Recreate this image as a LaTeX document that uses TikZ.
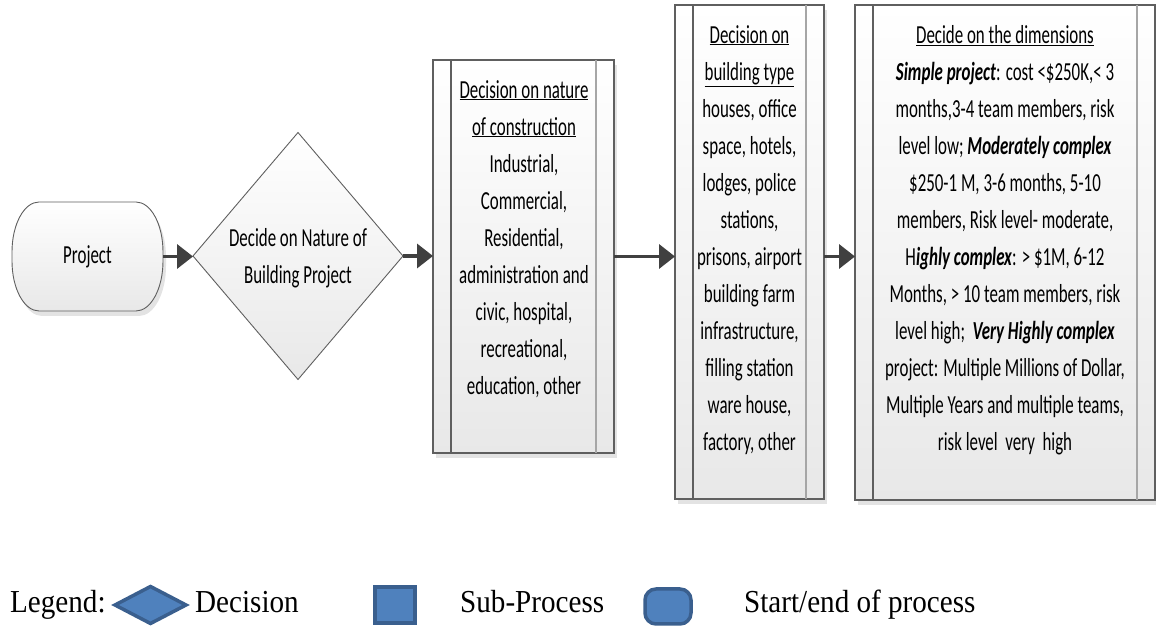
\documentclass[tikz,border=0pt]{standalone}
\usepackage{fontspec}
\setmainfont{Carlito}[FakeStretch=0.65]
\newfontfamily\legendfont{Liberation Serif}[FakeStretch=0.91]
\usetikzlibrary{arrows.meta,shapes.geometric,shadows}

\definecolor{edge}{HTML}{5F5F5F}
\definecolor{edgelight}{HTML}{A6A6A6}
\definecolor{flowline}{HTML}{404040}
\definecolor{legfill}{HTML}{4F81BD}
\definecolor{legedge}{HTML}{3A5F8E}

\newcommand\bodyfont{\fontsize{26pt}{37pt}\selectfont}
\newcommand\legfont{\legendfont\fontsize{32pt}{36pt}\selectfont}
\newcommand\bi[1]{\textbf{\textit{#1}}}

\begin{document}
\begin{tikzpicture}[x=1pt,y=1pt,
  shaded/.style={top color=white,bottom color=black!9},
  softshadow/.style={drop shadow={shadow xshift=3pt,shadow yshift=-5pt,fill=black!11,opacity=1}},
  frame/.style={inner sep=0pt,outer sep=0pt},
  subproc/.style={frame,draw=edge,line width=1.2pt,shaded,softshadow},
  decision/.style={frame,shape=diamond,draw=edge,line width=0.9pt,shaded},
  terminal/.style={draw=edge,line width=0.9pt,shaded,softshadow},
  bodytext/.style={font=\bodyfont,align=center,inner sep=0pt},
  flow/.style={draw=flowline,line width=3.5pt,-{Triangle[length=16pt,width=24pt]}},
  legshape/.style={frame,draw=legedge,line width=3.5pt,fill=legfill},
  legtext/.style={font=\legfont,anchor=base west,inner sep=0pt}
]
\useasboundingbox (0,0) rectangle (1156,626);

% start terminal (drawn as a path with elliptical ends)
\node[frame,minimum width=151pt,minimum height=109pt] (proj) at (87.5,369.5) {};
\path[terminal]
  ([xshift=27pt]proj.north west) -- ([xshift=-27pt]proj.north east)
  arc[start angle=90,end angle=0,x radius=27pt,y radius=50pt]
  -- ([yshift=50pt]proj.south east)
  arc[start angle=0,end angle=-90,x radius=27pt,y radius=50pt]
  -- ([xshift=27pt]proj.south west)
  arc[start angle=270,end angle=180,x radius=27pt,y radius=50pt]
  -- ([yshift=-50pt]proj.north west)
  arc[start angle=180,end angle=90,x radius=27pt,y radius=50pt] -- cycle;
\node[bodytext] (projtext) at (proj) {Project};

% decision
\node[decision,minimum width=210pt,minimum height=247pt] (dia) at (298,370) {};
\node[bodytext] (diatext) at ([yshift=-2pt]dia.center) {Decide on Nature of\\Building Project};

% sub-process boxes
\node[subproc,minimum width=181pt,minimum height=393pt] (b1) at (523.5,369.5) {};
\node[subproc,minimum width=149pt,minimum height=494pt] (b2) at (749.5,374) {};
\node[subproc,minimum width=300pt,minimum height=495pt] (b3) at (1005,373.5) {};

\foreach \b in {b1,b2,b3}{
  \draw[edge,line width=1.2pt] ([xshift=18pt]\b.north west) -- ([xshift=18pt]\b.south west);
  \draw[edgelight,line width=1.2pt] ([xshift=-18pt]\b.north east) -- ([xshift=-18pt]\b.south east);
}

\node[bodytext,anchor=north] (b1text) at ([xshift=0.5pt,yshift=-20pt]b1.north) {%
  \underline{Decision on nature}\\
  \underline{of construction}\\
  Industrial,\\
  Commercial,\\
  Residential,\\
  administration and\\
  civic, hospital,\\
  recreational,\\
  education, other};

\node[bodytext,anchor=north] (b2text) at ([yshift=-20pt]b2.north) {%
  \underline{Decision on}\\
  \underline{building type}\\
  houses, office\\
  space, hotels,\\
  lodges, police\\
  stations,\\
  prisons, airport\\
  building farm\\
  infrastructure,\\
  filling station\\
  ware house,\\
  factory, other};

\node[bodytext,anchor=north] (b3text) at ([yshift=-20pt]b3.north) {%
  \underline{Decide on the dimensions}\\
  \bi{Simple project}: cost <\$250K,< 3\\
  months,3-4 team members, risk\\
  level low; \bi{Moderately complex}\\
  \$250-1 M, 3-6 months, 5-10\\
  members, Risk level- moderate,\\
  H\bi{ighly complex}: > \$1M, 6-12\\
  Months, > 10 team members, risk\\
  level high;\ \ \bi{Very Highly complex}\\
  project: Multiple Millions of Dollar,\\
  Multiple Years and multiple teams,\\
  risk level\ \ very\ \ high};

% connectors
\draw[flow] (proj.east) -- (proj.east -| dia.west);
\draw[flow] (dia.east) -- (dia.east -| b1.west);
\draw[flow] (b1.east) -- (b1.east -| b2.west);
\draw[flow] (b2.east |- b1.east) -- (b1.east -| b3.west);

% legend
\node[legtext] (leglabel) at (10,13) {Legend:};
\node[legshape,shape=diamond,minimum width=71pt,minimum height=37pt] (legdia) at (150.5,21) {};
\node[legtext] (legdec) at (195,13) {Decision};
\node[legshape,minimum width=40pt,minimum height=36pt] (legsub) at (395,21) {};
\node[legtext] (legsubtxt) at (460,13) {Sub-Process};
\node[legshape,rounded corners=11pt,minimum width=46pt,minimum height=35pt] (legterm) at (668,19.5) {};
\node[legtext] (legtermtxt) at (744,13) {Start/end of process};
\end{tikzpicture}
\end{document}
